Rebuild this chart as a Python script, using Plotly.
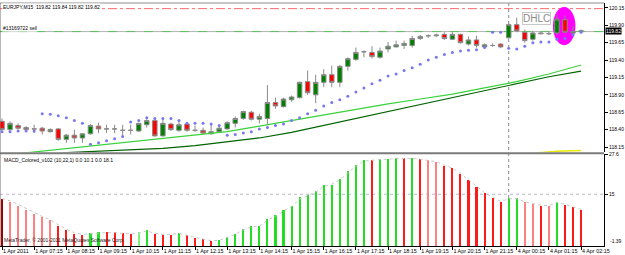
import plotly.graph_objects as go

# ---------------- data ----------------
symbol = "EURJPY,M15"
opens = [118.52,118.40,118.46,118.43,118.41,118.42,118.37,118.41,118.26,118.32,
         118.28,118.34,118.45,118.41,118.41,118.39,118.39,118.38,118.47,118.53,
         118.31,118.48,118.39,118.48,118.39,118.39,118.34,118.37,118.41,118.49,
         118.56,118.65,118.55,118.56,118.79,118.73,118.83,118.86,119.09,118.90,
         119.08,119.19,119.08,119.31,119.41,119.52,119.51,119.44,119.56,119.59,
         119.61,119.61,119.71,119.75,119.75,119.77,119.70,119.77,119.63,119.69,
         119.59,119.61,119.63,119.72,119.91,119.80,119.70,119.79,119.78,119.79,
         119.98,119.79,119.82]
highs = [118.56,118.52,118.49,118.45,118.47,118.44,118.42,118.42,118.34,118.40,
         118.35,118.48,118.50,118.47,118.47,118.47,118.47,118.50,118.55,118.56,
         118.55,118.50,118.53,118.50,118.46,118.43,118.47,118.46,118.52,118.59,
         118.67,118.67,118.63,119.04,118.86,118.86,118.89,119.09,119.25,119.19,
         119.27,119.32,119.33,119.44,119.58,119.54,119.60,119.58,119.66,119.68,
         119.68,119.75,119.76,119.77,119.78,119.80,119.80,119.78,119.74,119.75,
         119.64,119.64,119.64,119.93,120.01,119.84,119.82,119.81,119.82,120.05,
         120.04,119.89,119.84]
lows = [118.36,118.37,118.40,118.37,118.35,118.33,118.36,118.24,118.21,118.21,
        118.21,118.33,118.35,118.35,118.35,118.31,118.33,118.37,118.43,118.30,
        118.30,118.38,118.37,118.37,118.37,118.33,118.33,118.37,118.40,118.43,
        118.54,118.53,118.49,118.47,118.70,118.72,118.80,118.85,118.90,118.78,
        119.01,119.01,119.01,119.25,119.39,119.44,119.42,119.42,119.51,119.58,
        119.56,119.58,119.69,119.72,119.73,119.69,119.69,119.64,119.61,119.58,
        119.57,119.59,119.57,119.71,119.80,119.65,119.68,119.77,119.76,119.77,
        119.79,119.76,119.82]
closes = [118.40,118.49,118.42,118.40,118.41,118.38,118.40,118.26,118.32,118.28,
          118.34,118.46,118.41,118.41,118.41,118.39,118.39,118.49,118.53,118.31,
          118.49,118.40,118.47,118.39,118.39,118.35,118.37,118.42,118.50,118.56,
          118.66,118.55,118.59,118.79,118.74,118.84,118.87,119.08,118.93,119.08,
          119.19,119.08,119.31,119.42,119.51,119.52,119.45,119.53,119.60,119.62,
          119.64,119.71,119.74,119.75,119.76,119.71,119.77,119.65,119.69,119.61,
          119.62,119.61,119.59,119.91,119.82,119.68,119.79,119.78,119.78,119.99,
          119.80,119.81,119.82]
sar = [118.37,118.37,118.38,118.38,118.38,118.63,118.62,118.60,118.57,118.53,
       118.49,118.19,118.21,118.24,118.27,118.30,118.51,118.53,118.57,118.56,
       118.56,118.56,118.53,118.49,118.49,118.49,118.48,118.46,118.32,118.33,
       118.35,118.37,118.41,118.43,118.46,118.48,118.53,118.57,118.63,118.68,
       118.74,118.79,118.83,118.88,118.94,119.00,119.06,119.11,119.17,119.20,
       119.25,119.29,119.34,119.40,119.44,119.48,119.51,119.53,119.54,119.55,
       119.58,119.80,119.80,119.57,119.56,119.60,119.65,119.66,119.66,119.70,
       119.71,119.76,119.80]
ma_idx = [0,4,8,12,16,20,24,28,32,36,40,44,48,52,56,60,64,68,72]
ma_fast = [118.03,118.08,118.13,118.18,118.23,118.28,118.33,118.37,118.45,118.53,
           118.62,118.69,118.77,118.84,118.91,119.00,119.09,119.20,119.33]
ma_slow = [117.99,118.02,118.07,118.09,118.11,118.13,118.17,118.22,118.28,118.36,
           118.46,118.56,118.66,118.76,118.86,118.96,119.07,119.16,119.24]
ma3_idx = [66,69,72]
ma3 = [118.06,118.09,118.10]

macd = [13.49,12.64,11.38,10.02,8.76,7.69,6.65,4.76,3.50,2.24,
        1.93,2.65,2.97,2.87,2.87,2.65,2.24,2.87,3.72,2.24,
        2.20,2.18,2.65,1.93,1.20,0.67,0.13,0.35,1.39,2.46,
        4.04,4.76,4.80,7.19,8.23,10.02,11.38,13.99,14.60,15.88,
        17.99,17.95,19.79,22.18,24.29,25.77,25.70,25.96,26.09,26.40,
        26.28,26.40,26.09,25.77,25.24,23.98,23.25,21.36,19.47,17.36,
        15.25,13.80,12.42,13.80,13.68,12.42,11.91,11.38,11.30,12.64,
        11.69,10.84,10.02]
macd_signal = [13.6,12.9,11.8,10.5,9.2,8.0,6.9,5.3,4.0,2.8,
               2.3,2.5,2.8,2.85,2.85,2.7,2.4,2.7,3.4,2.6,
               2.3,2.3,2.6,2.0,1.3,0.8,0.3,0.4,1.3,2.3,
               3.8,4.6,4.9,6.8,8.0,9.7,11.1,13.5,14.5,15.7,
               17.5,18.2,19.6,21.8,23.9,25.5,25.8,26.0,26.1,26.35,
               26.3,26.35,26.1,25.8,25.3,24.2,23.3,21.6,19.7,17.6,
               15.5,14.0,12.7,13.6,13.6,12.6,12.0,11.5,11.4,12.4,
               11.8,11.0,10.2]
G, LG, R, LR, DR = "#22dd22", "#7cf27c", "#ff1a1a", "#ff8080", "#a00000"
macd_colors = [DR,LR,LR,LR,LR,LR,LR,R,R,R,
               R,G,G,R,R,R,R,LG,G,R,
               R,R,G,R,R,R,R,G,G,G,
               G,G,G,G,G,G,G,G,G,G,
               G,G,G,G,G,G,R,G,G,G,
               R,G,R,LR,LR,R,R,R,R,R,
               R,R,R,G,G,LR,LR,R,LR,G,
               R,R,R]
macd_label = "MACD_Colored_v102 (10,22,1) 0.0 10.1 0.0 18.1"
macd_max, macd_min, macd_level = 27.6, -1.39, 15

tick_bars = [0,4,8,12,16,20,24,28,32,36,40,44,48,52,56,60,64,68,72]
tick_labels = ["1 Apr 2011","1 Apr 07:15","1 Apr 08:15","1 Apr 09:15","1 Apr 10:15",
               "1 Apr 11:15","1 Apr 12:15","1 Apr 13:15","1 Apr 14:15","1 Apr 15:15",
               "1 Apr 16:15","1 Apr 17:15","1 Apr 18:15","1 Apr 19:15","1 Apr 20:15",
               "1 Apr 21:15","4 Apr 00:15","4 Apr 01:15","4 Apr 02:15"]
price_ticks = [120.15,119.90,119.65,119.40,119.15,118.90,118.65,118.40,118.15]
price_range = [118.076, 120.221]
tp_level = 120.14
order_level = 119.81
order_text = "#13169722 sell"
day_sep_bar = 63
ellipse_bars = [68.5, 71.3]
ellipse_prices = [119.614, 120.164]
dhlc_bar, dhlc_price = 66.5, 120.00

# ---------------- figure ----------------
idx = list(range(len(opens)))
FONT = "Liberation Sans"
fig = go.Figure()

fig.add_trace(go.Scatter(x=ma_idx, y=ma_slow, mode="lines", line=dict(color="#006400", width=1.2),
                         xaxis="x2", yaxis="y", hoverinfo="skip"))
fig.add_trace(go.Scatter(x=ma_idx, y=ma_fast, mode="lines", line=dict(color="#3ad23a", width=1.2),
                         xaxis="x2", yaxis="y", hoverinfo="skip"))
fig.add_trace(go.Scatter(x=ma3_idx, y=ma3, mode="lines", line=dict(color="#e8e800", width=1.5),
                         xaxis="x2", yaxis="y", hoverinfo="skip"))
fig.add_trace(go.Candlestick(
    x=idx, open=opens, high=highs, low=lows, close=closes, xaxis="x2", yaxis="y",
    increasing=dict(fillcolor="#008000", line=dict(color="#8a8a8a", width=1)),
    decreasing=dict(fillcolor="#ff0000", line=dict(color="#8a8a8a", width=1)),
    whiskerwidth=0))
fig.add_trace(go.Scatter(x=idx, y=sar, mode="markers", xaxis="x2", yaxis="y",
                         marker=dict(color="#7878f0", size=3, line=dict(width=0))))

fig.add_trace(go.Bar(x=idx, y=[v - macd_min for v in macd], base=macd_min,
                     marker=dict(color=macd_colors, line=dict(width=0)), width=0.26,
                     xaxis="x", yaxis="y2"))
fig.add_trace(go.Scatter(x=idx, y=macd_signal, mode="lines", xaxis="x", yaxis="y2",
                         line=dict(color="#c8c8c8", width=1, dash="dot")))

main_dom = [0.3862, 1.0]
macd_dom = [0.0, 0.378]

shapes = [
    dict(type="circle", xref="x2", yref="y", x0=ellipse_bars[0], x1=ellipse_bars[1],
         y0=ellipse_prices[0], y1=ellipse_prices[1], fillcolor="#ff00ff",
         line=dict(width=0), layer="below"),
    dict(type="line", xref="paper", yref="y", x0=0, x1=1, y0=tp_level, y1=tp_level,
         line=dict(color="#ff6a6a", width=1, dash="dashdot"), layer="below"),
    dict(type="line", xref="paper", yref="y", x0=0, x1=1, y0=order_level, y1=order_level,
         line=dict(color="#b4b4b4", width=1), layer="below"),
    dict(type="line", xref="paper", yref="y", x0=0, x1=1, y0=order_level, y1=order_level,
         line=dict(color="#5cbf5c", width=1, dash="dash"), layer="below"),
    dict(type="line", xref="paper", yref="y2", x0=0, x1=1, y0=macd_level, y1=macd_level,
         line=dict(color="#b8b8cc", width=1, dash="dot"), layer="below"),
    dict(type="line", xref="x", yref="paper", x0=day_sep_bar, x1=day_sep_bar, y0=0, y1=1,
         line=dict(color="#8c8c8c", width=1, dash="dot"), layer="below"),
    dict(type="rect", xref="paper", yref="paper", x0=0, x1=1, y0=macd_dom[1], y1=main_dom[0],
         fillcolor="#7a7a7a", line=dict(width=0)),
    dict(type="line", xref="paper", yref="paper", x0=0, x1=0, y0=0, y1=1,
         line=dict(color="#707070", width=1)),
    dict(type="line", xref="paper", yref="paper", x0=0, x1=1, y0=1, y1=1,
         line=dict(color="#909090", width=1)),
]

annotations = [
    dict(xref="paper", yref="paper", x=0.004, y=0.982, xanchor="left", yanchor="middle",
         text=f"{symbol}  {opens[-1]:.2f} {highs[-1]:.2f} {lows[-1]:.2f} {closes[-1]:.2f}",
         showarrow=False, font=dict(family=FONT, size=5, color="#000000"), bgcolor="white", borderpad=0),
    dict(xref="paper", yref="y", x=0.004, y=order_level, xanchor="left", yanchor="bottom",
         text=order_text, showarrow=False, font=dict(family=FONT, size=5, color="#000000"),
         bgcolor="white", borderpad=0),
    dict(xref="x2", yref="y", x=dhlc_bar, y=dhlc_price, xanchor="center", yanchor="middle",
         text="DHLC", showarrow=False, font=dict(family=FONT, size=10, color="#8a8a8a"),
         bordercolor="#c8c8c8", borderwidth=1, borderpad=0, bgcolor="rgba(255,255,255,0.6)"),
    dict(xref="paper", yref="y2", x=0.004, y=macd_max, xanchor="left", yanchor="top",
         text=macd_label, showarrow=False, font=dict(family=FONT, size=5, color="#000000"), yshift=-1),
    dict(xref="paper", yref="paper", x=0.004, y=0.004, xanchor="left", yanchor="bottom",
         text="MetaTrader, © 2001-2011 MetaQuotes Software Corp.", showarrow=False,
         font=dict(family=FONT, size=5, color="#202020")),
    dict(xref="paper", yref="y", x=1, y=closes[-1], xanchor="left", yanchor="middle",
         text=f"{closes[-1]:.2f}", showarrow=False, bgcolor="#000000", borderpad=0,
         font=dict(family=FONT, size=5, color="#ffffff"), xshift=1),
    dict(xref="paper", yref="y2", x=1, y=macd_min, xanchor="left", yanchor="bottom",
         text=f"{macd_min:.2f}", showarrow=False, xshift=4,
         font=dict(family=FONT, size=5, color="#000000")),
]

fig.update_layout(
    width=625, height=255, margin=dict(l=0, r=19, t=0, b=9),
    paper_bgcolor="white", plot_bgcolor="white", showlegend=False, bargap=0, boxgap=0.2,
    font=dict(family=FONT, size=5, color="#000000"),
    xaxis=dict(domain=[0, 1], anchor="y2", range=[-0.25, 74.85], tickvals=tick_bars,
               ticktext=tick_labels, ticks="outside", ticklen=3, tickcolor="#000000",
               ticklabelposition="outside right", tickangle=0, showline=True, linecolor="#000000",
               linewidth=1, showgrid=False, zeroline=False, tickfont=dict(size=5.4)),
    xaxis2=dict(domain=[0, 1], anchor="y", matches="x", showticklabels=False, ticks="",
                showgrid=False, zeroline=False, rangeslider=dict(visible=False)),
    yaxis=dict(domain=main_dom, anchor="x2", side="right", range=price_range,
               tickvals=price_ticks, ticktext=[f"{v:.2f}" for v in price_ticks],
               ticks="outside", ticklen=3, tickcolor="#000000", showline=True,
               linecolor="#000000", linewidth=1, showgrid=False, zeroline=False),
    yaxis2=dict(domain=macd_dom, anchor="x", side="right", range=[macd_min, macd_max + 0.1],
                tickvals=[macd_max, macd_level], ticktext=[f"{macd_max}", f"{macd_level}"],
                ticks="outside", ticklen=3, tickcolor="#000000", showline=True,
                linecolor="#000000", linewidth=1, showgrid=False, zeroline=False),
    shapes=shapes, annotations=annotations,
)

fig.write_html("out.html")
